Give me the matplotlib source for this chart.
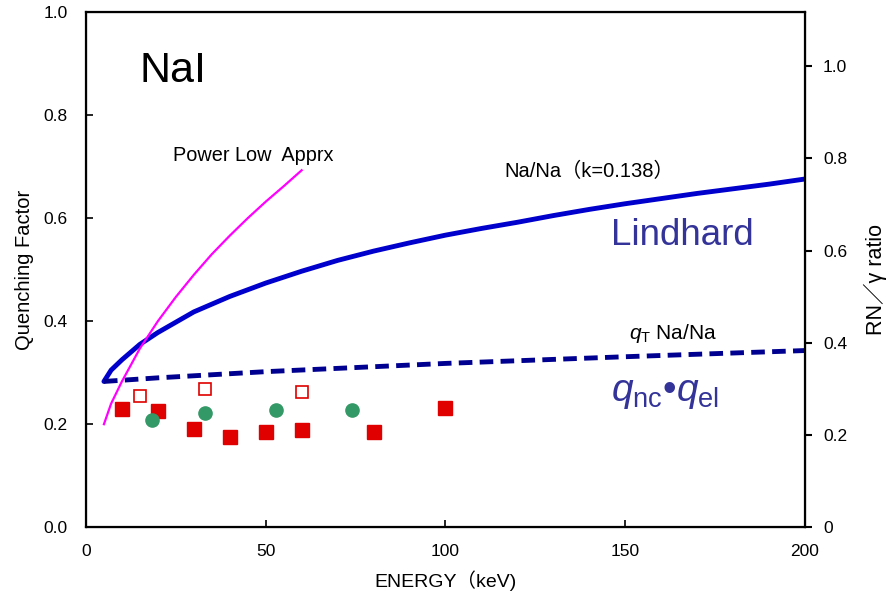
import matplotlib
matplotlib.use("Agg")
import matplotlib.pyplot as plt
import matplotlib.ticker as mticker

plt.rcParams['font.family'] = ['Liberation Sans', 'Noto Sans CJK JP', 'DejaVu Sans']
plt.rcParams['mathtext.fontset'] = 'custom'
plt.rcParams['mathtext.it'] = 'Liberation Sans:italic'
plt.rcParams['mathtext.rm'] = 'Liberation Sans'

# Lindhard (Na/Na, k=0.138)
lind_e = [5, 7, 10, 15, 20, 30, 40, 50, 60, 70, 80, 90, 100, 110, 120,
          130, 140, 150, 160, 170, 180, 190, 200]
lind_q = [0.283, 0.305, 0.325, 0.355, 0.378, 0.418, 0.448, 0.474, 0.497,
          0.518, 0.536, 0.552, 0.567, 0.580, 0.592, 0.605, 0.617, 0.628,
          0.638, 0.648, 0.657, 0.666, 0.676]

# q_T Na/Na (dashed)
qt_e = [5, 20, 50, 100, 150, 200]
qt_q = [0.283, 0.290, 0.302, 0.318, 0.331, 0.343]

# power law approximation
pw_e = [5, 7, 10, 15, 20, 25, 30, 35, 40, 45, 50, 55, 60]
pw_q = [0.200, 0.240, 0.283, 0.347, 0.400, 0.447, 0.490, 0.530, 0.566,
        0.600, 0.632, 0.662, 0.693]

# measurements
red_e = [10, 20, 30, 40, 50, 60, 80, 100]
red_q = [0.229, 0.226, 0.191, 0.175, 0.184, 0.188, 0.184, 0.232]
open_e = [15, 33, 60]
open_q = [0.254, 0.269, 0.262]
green_e = [18.4, 33, 53, 74]
green_q = [0.209, 0.221, 0.227, 0.228]

fig = plt.figure(figsize=(8.88, 6.06), dpi=100)
ax = fig.add_axes([0.0968, 0.130, 0.8097, 0.850])

ax.plot(lind_e, lind_q, color='#0000cc', lw=3.5, solid_capstyle='round')
ax.plot(qt_e, qt_q, color='#000090', lw=3.5, dashes=(2.8, 1.5))
ax.plot(pw_e, pw_q, color='#ff00ff', lw=1.6)
ax.plot(red_e, red_q, 's', color='#e00000', ms=9.5, mec='#e00000')
ax.plot(open_e, open_q, 's', mfc='white', mec='#e00000', mew=1.2, ms=9)
ax.plot(green_e, green_q, 'o', color='#339966', ms=9.5)

ax.set_xlim(0, 200)
ax.set_ylim(0, 1.0)
ax.set_xticks([0, 50, 100, 150, 200])
ax.set_yticks([0, 0.2, 0.4, 0.6, 0.8, 1.0])
ax.yaxis.set_major_formatter(mticker.FormatStrFormatter('%.1f'))
ax.tick_params(axis='y', labelsize=12.5, width=1.2, length=5, direction='in', pad=13)
ax.tick_params(axis='x', labelsize=12.5, width=1.2, length=5, direction='in', pad=12)
for s in ax.spines.values():
    s.set_linewidth(1.6)
ax.set_xlabel('ENERGY（keV)', fontsize=14, labelpad=8)
ax.set_ylabel('Quenching Factor', fontsize=14.5, labelpad=7)

ax2 = ax.twinx()
ax2.set_ylim(0, 1.0 * 513.5 / 459.5)
ax2.set_yticks([0, 0.2, 0.4, 0.6, 0.8, 1.0])
ax2.set_yticklabels(['0', '0.2', '0.4', '0.6', '0.8', '1.0'])
ax2.tick_params(labelsize=12.5, width=1.5, length=5, direction='out', pad=8)
ax2.set_ylabel('RN／γ ratio', fontsize=15.5, labelpad=12, y=0.48)

ax.text(15, 0.885, 'NaI', fontsize=31, va='center')
ax.text(24.3, 0.721, 'Power Low  Apprx', fontsize=14.3, va='center')
ax.text(116.5, 0.69, 'Na/Na（k=0.138）', fontsize=14.5, va='center')
ax.text(146, 0.566, 'Lindhard', fontsize=26.5, color='#333399', va='center')
ax.text(151, 0.377, r'$q_{\mathrm{T}}$ Na/Na', fontsize=15, va='center')
ax.text(146, 0.26, r'$q_{\mathrm{nc}}$•$q_{\mathrm{el}}$', fontsize=28,
        color='#333399', va='center')

fig.savefig('out.png', dpi=100)
